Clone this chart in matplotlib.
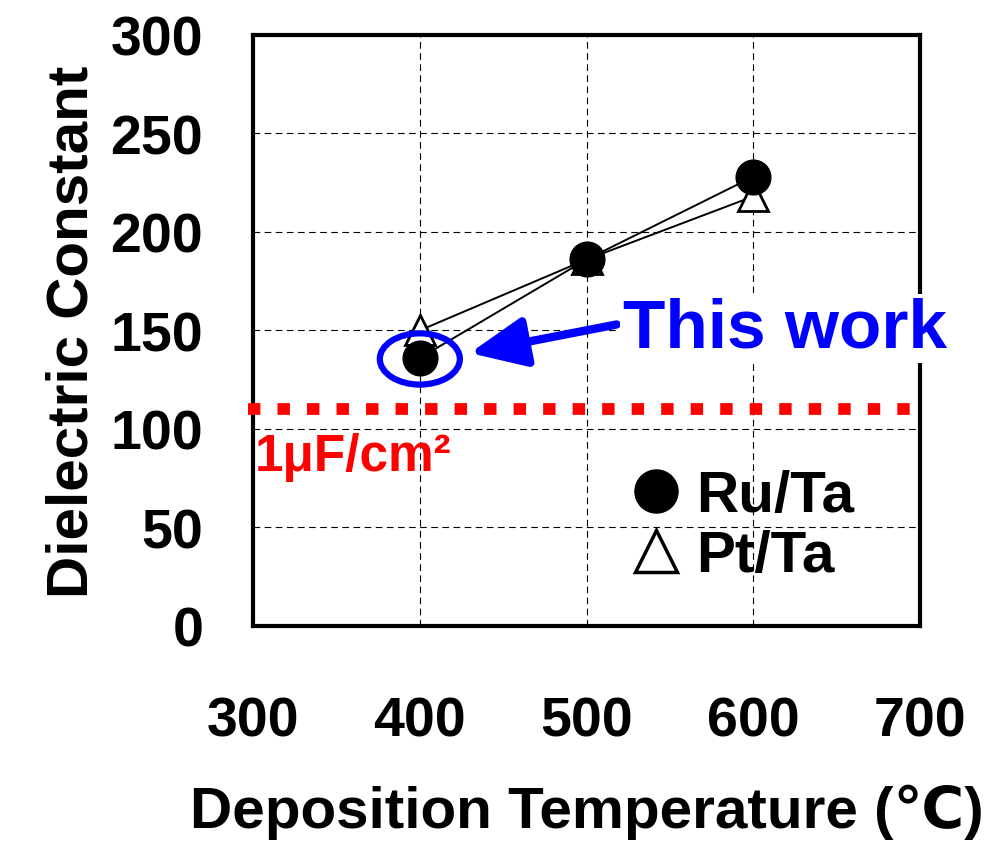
import matplotlib
matplotlib.use('Agg')
import matplotlib.pyplot as plt
from matplotlib.patches import Ellipse
from matplotlib.lines import Line2D

plt.rcParams['font.family'] = ['Liberation Sans', 'DejaVu Sans']
plt.rcParams['font.weight'] = 'bold'

# 数据
temperature = [400, 500, 600]
ru_ta = [136, 186, 228]
pt_ta = [150, 186, 218]
target_k = 110  # 1uF/cm2 对应的介电常数
x_ticks = [300, 400, 500, 600, 700]
y_ticks = [0, 50, 100, 150, 200, 250, 300]

fig = plt.figure(figsize=(9.85, 8.53), dpi=100)
ax = fig.add_axes([0.257, 0.265, 0.677, 0.693])

# 曲线
ax.plot(temperature, pt_ta, color='black', lw=1.4, marker='^', ms=21,
        mfc='white', mec='black', mew=2, zorder=4)
ax.plot(temperature, ru_ta, color='black', lw=1.4, marker='o', ms=25,
        mfc='black', mec='black', zorder=5)

# 红色目标线
ax.plot([297, 698], [target_k, target_k], color='#ff0000', lw=8.5,
        ls=(0, (1.05, 1.45)), dash_capstyle='butt', clip_on=False, zorder=3)
ax.text(301, 98.5, '1\u03bcF/cm\u00b2', color='#ff0000', fontsize=37,
        fontweight='bold', ha='left', va='top', zorder=6)

# 圈出 This work
ax.add_patch(Ellipse((400, 135.5), 48, 26, fill=False, ec='#0000ff', lw=4.5, zorder=6))
ax.annotate('', xy=(430, 138.5), xytext=(518, 153),
            arrowprops=dict(arrowstyle='-|>,head_length=0.85,head_width=0.38',
                            lw=6, color='#0000ff', mutation_scale=40,
                            shrinkA=0, shrinkB=0), zorder=6)
ax.text(522, 151, 'This work', color='#0000ff', fontsize=50, fontweight='bold',
        ha='left', va='center', zorder=7, clip_on=False,
        bbox=dict(facecolor='white', edgecolor='none', pad=2))

# 图例
handles = [Line2D([], [], ls='none', marker='o', ms=31, mfc='black', mec='black'),
           Line2D([], [], ls='none', marker='^', ms=30, mfc='white', mec='black', mew=2.5)]
ax.legend(handles, ['Ru/Ta', 'Pt/Ta'], loc='upper left', bbox_to_anchor=(0.56, 0.265),
          frameon=False, fontsize=42, handlelength=1.0, handletextpad=0.2,
          labelspacing=0.1, borderpad=0, borderaxespad=0)

ax.set_xlim(300, 700)
ax.set_ylim(0, 300)
ax.set_xticks(x_ticks)
ax.set_yticks(y_ticks)
ax.tick_params(axis='both', length=0, labelsize=40)
ax.tick_params(axis='x', pad=50)
ax.tick_params(axis='y', pad=36)
ax.grid(True, color='black', lw=0.8, ls=(0, (6, 4)))
for s in ax.spines.values():
    s.set_linewidth(3)
    s.set_color('black')

ax.set_xlabel('Deposition Temperature (\u2103)', fontsize=42, fontweight='bold', labelpad=26)
ax.set_ylabel('Dielectric Constant', fontsize=42, fontweight='bold', labelpad=8)

fig.savefig('out.png', dpi=100)
